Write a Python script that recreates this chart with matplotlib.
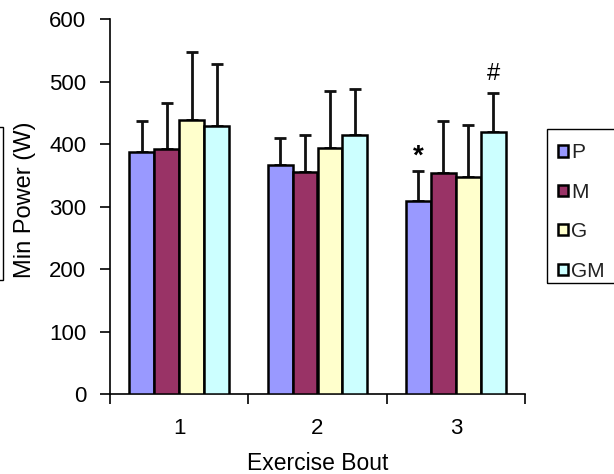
import numpy as np
import matplotlib.pyplot as plt
from matplotlib.patches import Rectangle

plt.rcParams['font.family'] = ['Liberation Sans', 'DejaVu Sans']

bouts = ['1', '2', '3']
groups = ['P', 'M', 'G', 'GM']
colors = ['#9999FF', '#993366', '#FFFFCC', '#CCFFFF']

# mean min power (W) per bout, per group
p_mean = [388, 366, 309]
m_mean = [392, 355, 353]
g_mean = [438, 394, 347]
gm_mean = [429, 415, 419]
# SD (upper error bars only)
p_sd = [49, 43, 48]
m_sd = [74, 59, 84]
g_sd = [110, 91, 84]
gm_sd = [99, 73, 63]

means = [p_mean, m_mean, g_mean, gm_mean]
sds = [p_sd, m_sd, g_sd, gm_sd]

fig = plt.figure(figsize=(6.14, 4.74), dpi=100)
ax = fig.add_axes([110/614, 1-394.3/474, 415/614, 375.3/474])

x = np.arange(len(bouts))
w = 0.18
for i, (g, c) in enumerate(zip(groups, colors)):
    pos = x + (i - 1.5) * w
    ax.bar(pos, means[i], w, color=c, edgecolor='black', linewidth=1.8,
           label=g, zorder=3)
    ax.errorbar(pos, means[i], yerr=[np.zeros(3), sds[i]], fmt='none',
                ecolor='#111111', elinewidth=2, capsize=4, capthick=2,
                zorder=2)

# significance marks
ax.text(2 - 1.5*w, 380, '*', ha='center', va='center', fontsize=20, fontweight='bold')
ax.text(2 + 1.5*w, 512, '#', ha='center', va='center', fontsize=17)

ax.set_xlim(-0.5, 2.5)
ax.set_ylim(0, 600)
ax.set_yticks(range(0, 601, 100))
ax.set_xticks([-0.5, 0.5, 1.5, 2.5])
ax.set_xticklabels([])
ax.set_xticks(x, minor=True)
ax.set_xticklabels(bouts, minor=True)
ax.tick_params(axis='x', which='major', length=7, width=1.2)
ax.tick_params(axis='x', which='minor', length=0, pad=17, labelsize=16)
ax.tick_params(axis='y', length=7, width=1.2, pad=10, labelsize=16)
for s in ['top', 'right']:
    ax.spines[s].set_visible(False)
for s in ['left', 'bottom']:
    ax.spines[s].set_linewidth(1.2)

fig.text(25/614, 1-200/474, 'Min Power (W)', rotation=90, ha='center',
         va='center', fontsize=17)
fig.text(318/614, 1-463/474, 'Exercise Bout', ha='center', va='center',
         fontsize=16.5)

# legend box (cut off at right edge)
fig.patches.append(Rectangle((547/614, 1-283/474), 0.2, 154/474,
                             transform=fig.transFigure, fill=False,
                             edgecolor='black', linewidth=1))
# partial box at the left edge
fig.patches.append(Rectangle((-0.1, 1-280/474), 0.1 + 3/614, 153/474,
                             transform=fig.transFigure, fill=False,
                             edgecolor='black', linewidth=1))

handles, labels = ax.get_legend_handles_labels()
leg = fig.legend(handles, labels, loc='upper left',
                 bbox_to_anchor=(548/614, 1-133/474), frameon=False,
                 fontsize=15, handlelength=0.45, handleheight=0.45,
                 handletextpad=0.15, labelspacing=0.98, borderpad=0)
for t in leg.get_texts():
    t.set_color('#222222')

plt.savefig('out.png', dpi=100)
